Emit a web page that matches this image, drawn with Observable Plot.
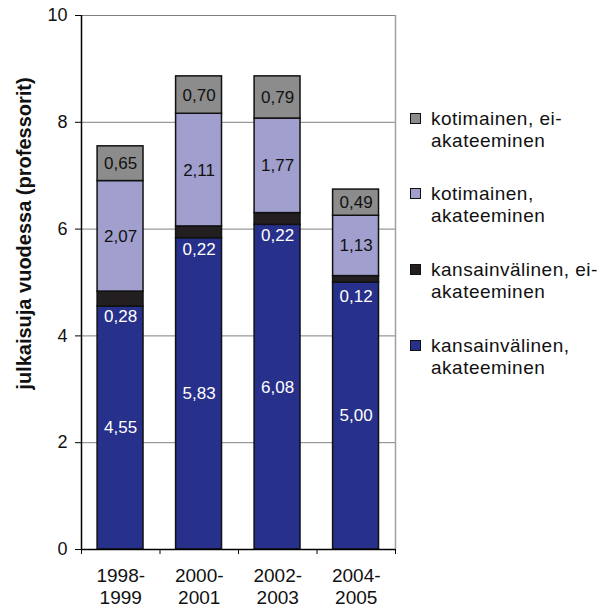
<!DOCTYPE html>
<html><head><meta charset="utf-8">
<script src="https://cdn.jsdelivr.net/npm/d3@7"></script>
<script src="https://cdn.jsdelivr.net/npm/@observablehq/plot@0.6"></script>
<style>
body{margin:0;background:#fff;font-family:"Liberation Sans",Arial,sans-serif;}
#wrap{position:relative;width:603px;height:613px;}
g[aria-label="bar-label"] text{letter-spacing:1.3px;}
g[aria-label="period-label"] text{letter-spacing:2px;}
g[aria-label="y-title"] text{letter-spacing:0.3px;}
.legend{position:absolute;left:410px;width:193px;}
.item{position:absolute;left:0;display:flex;align-items:flex-start;}
.sw{width:9px;height:9px;border:1.5px solid #111;margin-top:5px;margin-right:10px;flex:none;}
.lt{font-size:19px;line-height:22px;letter-spacing:0.5px;white-space:pre;color:#111;}
</style></head><body><div id="wrap"></div>
<script>
const periods = ["1998-1999","2000-2001","2002-2003","2004-2005"];
const seriesNames = ["kansainvälinen,\nakateeminen","kansainvälinen, ei-\nakateeminen","kotimainen,\nakateeminen","kotimainen, ei-\nakateeminen"];
const seriesColors = ["#27308a","#231f20","#a09fcd","#8c8c8c"];
const labelColors = ["#ffffff","#ffffff","#111111","#111111"];
const intlAcademic = [4.55,5.83,6.08,5.00];
const intlNonAcademic = [0.28,0.22,0.22,0.12];
const domAcademic = [2.07,2.11,1.77,1.13];
const domNonAcademic = [0.65,0.70,0.79,0.49];
const yTicks = [0,2,4,6,8,10];
const yLabel = "julkaisuja vuodessa (professorit)";

const seriesValues = [intlAcademic,intlNonAcademic,domAcademic,domNonAcademic];
const rows = [];
periods.forEach((p,i)=>{
  let base = 0;
  seriesValues.forEach((arr,s)=>{
    rows.push({i, s, y1: base, y2: base + arr[i], v: arr[i]});
    base += arr[i];
  });
});
const fmt = v => v.toFixed(2).replace(".", ",");

const chart = Plot.plot({
  width: 603, height: 613,
  marginLeft: 81, marginRight: 208, marginTop: 15, marginBottom: 64,
  style: {fontFamily: "Liberation Sans, Arial, sans-serif", background: "#fff", color: "#111"},
  x: {type: "linear", domain: [0, 4], axis: null},
  y: {domain: [0, 10], axis: null},
  color: {type: "identity"},
  marks: [
    Plot.ruleY(yTicks.filter(d => d > 0), {stroke: "#808080", strokeWidth: 1}),
    Plot.ruleX([4], {stroke: "#a0a0a0", strokeWidth: 1.5}),
    Plot.rect(rows, {x1: d => d.i + 0.205, x2: d => d.i + 0.79, y1: "y1", y2: "y2",
      fill: d => seriesColors[d.s], stroke: "#111", strokeWidth: 1.5}),
    Plot.text(rows.filter(d => d.s !== 1), {x: d => d.i + 0.4975, y: d => (d.y1 + d.y2) / 2,
      text: d => fmt(d.v), fill: d => labelColors[d.s], fontSize: 17, ariaLabel: "bar-label"}),
    Plot.text(rows.filter(d => d.s === 1), {x: d => d.i + 0.4975, y: d => (d.y1 + d.y2) / 2,
      text: d => fmt(d.v), fill: d => labelColors[d.s], fontSize: 17, dy: 17, ariaLabel: "bar-label"}),
    Plot.ruleX([0], {stroke: "#000", strokeWidth: 1.5}),
    Plot.ruleY([0], {stroke: "#000", strokeWidth: 1.5}),
    Plot.axisY({ticks: yTicks, tickSize: 6, tickPadding: 8, fontSize: 18, label: null, tickFormat: d => String(d), stroke: "#000"}),
    Plot.axisX({ticks: [0,1,2,3,4], tickSize: 5, tickFormat: () => "", label: null, stroke: "#000"}),
    Plot.text(periods, {x: (d, i) => i + 0.5, y: () => 0, text: d => d.replace("-", "-\n"),
      lineAnchor: "top", dy: 16, fontSize: 19, lineHeight: 1.2, fill: "#111", ariaLabel: "period-label"}),
    Plot.text([yLabel], {frameAnchor: "left", textAnchor: "middle", rotate: -90, dx: -57, dy: -49,
      fontSize: 20, fontWeight: "bold", fill: "#111", ariaLabel: "y-title"})
  ]
});
const wrap = document.getElementById("wrap");
wrap.appendChild(chart);

const legend = document.createElement("div");
legend.className = "legend";
const legendOrder = [3, 2, 1, 0];
const legendTops = [108, 183, 259, 335];
legendOrder.forEach((s, k) => {
  const item = document.createElement("div");
  item.className = "item";
  item.style.top = legendTops[k] + "px";
  const sw = document.createElement("div");
  sw.className = "sw";
  sw.style.background = seriesColors[s];
  const lt = document.createElement("div");
  lt.className = "lt";
  lt.textContent = seriesNames[s];
  item.appendChild(sw); item.appendChild(lt);
  legend.appendChild(item);
});
legend.style.top = "0px";
wrap.appendChild(legend);
</script></body></html>
